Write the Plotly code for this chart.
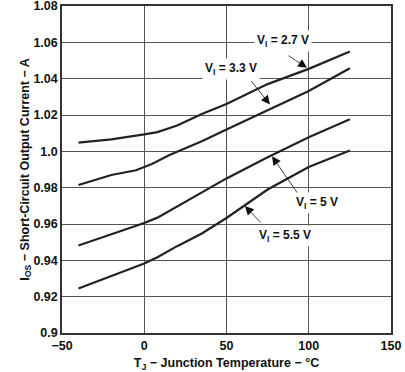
import plotly.graph_objects as go

# Data
temp_27 = [-40, -20, 0, 8, 20, 35, 50, 75, 100, 125]
iout_27 = [1.0048, 1.0066, 1.0093, 1.0106, 1.0142, 1.0205, 1.0260, 1.0370, 1.0454, 1.0550]

temp_33 = [-40, -20, -5, 0, 5, 15, 35, 50, 75, 100, 125]
iout_33 = [0.9815, 0.9870, 0.9896, 0.9914, 0.9932, 0.9978, 1.0055, 1.0120, 1.0228, 1.0332, 1.0457]

temp_50 = [-40, -20, 0, 8, 20, 35, 50, 75, 100, 125]
iout_50 = [0.9482, 0.9543, 0.9605, 0.9635, 0.9698, 0.9773, 0.9851, 0.9968, 1.0078, 1.0176]

temp_55 = [-40, -20, 0, 8, 20, 35, 50, 75, 100, 125]
iout_55 = [0.9245, 0.9314, 0.9382, 0.9417, 0.9478, 0.9548, 0.9633, 0.9790, 0.9914, 1.0005]

x_ticks = [-50, 0, 50, 100, 150]
x_ticklabels = ["\u221250", "0", "50", "100", "150"]
y_ticks = [0.90, 0.92, 0.94, 0.96, 0.98, 1.00, 1.02, 1.04, 1.06, 1.08]
y_ticklabels = ["0.9", "0.92", "0.94", "0.96", "0.98", "1.0", "1.02", "1.04", "1.06", "1.08"]

labels = ["V<sub>I</sub> = 2.7 V", "V<sub>I</sub> = 3.3 V", "V<sub>I</sub> = 5 V", "V<sub>I</sub> = 5.5 V"]

FONT = "Liberation Sans, Arial, sans-serif"
LINE = "#222222"
FS = 12.5

fig = go.Figure()
for t, v in [(temp_27, iout_27), (temp_33, iout_33), (temp_50, iout_50), (temp_55, iout_55)]:
    fig.add_trace(go.Scatter(x=t, y=v, mode="lines", line=dict(color=LINE, width=2.2),
                             showlegend=False, hoverinfo="skip"))

# label text positions (center) and arrows (tail -> head)
text_pos = [(84.3, 1.0608), (52.7, 1.0455), (105.0, 0.9716), (85.6, 0.9535)]
arrows = [((86.8, 1.0532), (98.9, 1.0460)),
          ((64.3, 1.0395), (76.4, 1.0258)),
          ((93.5, 0.9765), (77.7, 0.9973)),
          ((71.6, 0.9601), (61.2, 0.9699))]

for lab, (tx, ty) in zip(labels, text_pos):
    fig.add_annotation(x=tx, y=ty, text=lab, showarrow=False, bgcolor="white",
                       font=dict(family=FONT, size=12, color="#111", weight="bold"),
                       borderpad=2)
for (tail, head) in arrows:
    fig.add_annotation(x=head[0], y=head[1], ax=tail[0], ay=tail[1], axref="x", ayref="y",
                       text="", showarrow=True, arrowhead=2, arrowsize=2.2, arrowwidth=0.8,
                       arrowcolor="#111", standoff=0, startstandoff=0)

fig.update_layout(
    width=405, height=372,
    margin=dict(l=62, r=14, t=6, b=39),
    paper_bgcolor="white", plot_bgcolor="white",
    font=dict(family=FONT, size=FS, color="#111"),
)
fig.update_xaxes(range=[-50, 150], tickvals=x_ticks, ticktext=x_ticklabels,
                 showgrid=True, gridcolor="#555", gridwidth=1,
                 showline=True, linecolor="#333", linewidth=1.5, mirror=True,
                 ticks="", zeroline=False, ticklabeloverflow="allow", automargin=False,
                 tickfont=dict(family=FONT, size=FS, weight="bold"),
                 title=dict(text="T<sub>J</sub> \u2212 Junction Temperature \u2212 \u00b0C",
                            font=dict(family=FONT, size=FS, weight="bold"), standoff=7))
fig.update_yaxes(range=[0.9, 1.08], tickvals=y_ticks, ticktext=y_ticklabels,
                 showgrid=True, gridcolor="#555", gridwidth=1,
                 showline=True, linecolor="#333", linewidth=1.5, mirror=True,
                 ticks="", zeroline=False, ticklabeloverflow="allow", automargin=False,
                 tickfont=dict(family=FONT, size=FS, weight="bold"),
                 title=dict(text="I<sub>OS</sub> \u2212 Short-Circuit Output Current \u2212 A",
                            font=dict(family=FONT, size=FS, weight="bold"), standoff=0))

fig.write_html("out.html", config={"displayModeBar": False},
               post_script="document.body.style.margin='0';document.body.style.padding='0';")
